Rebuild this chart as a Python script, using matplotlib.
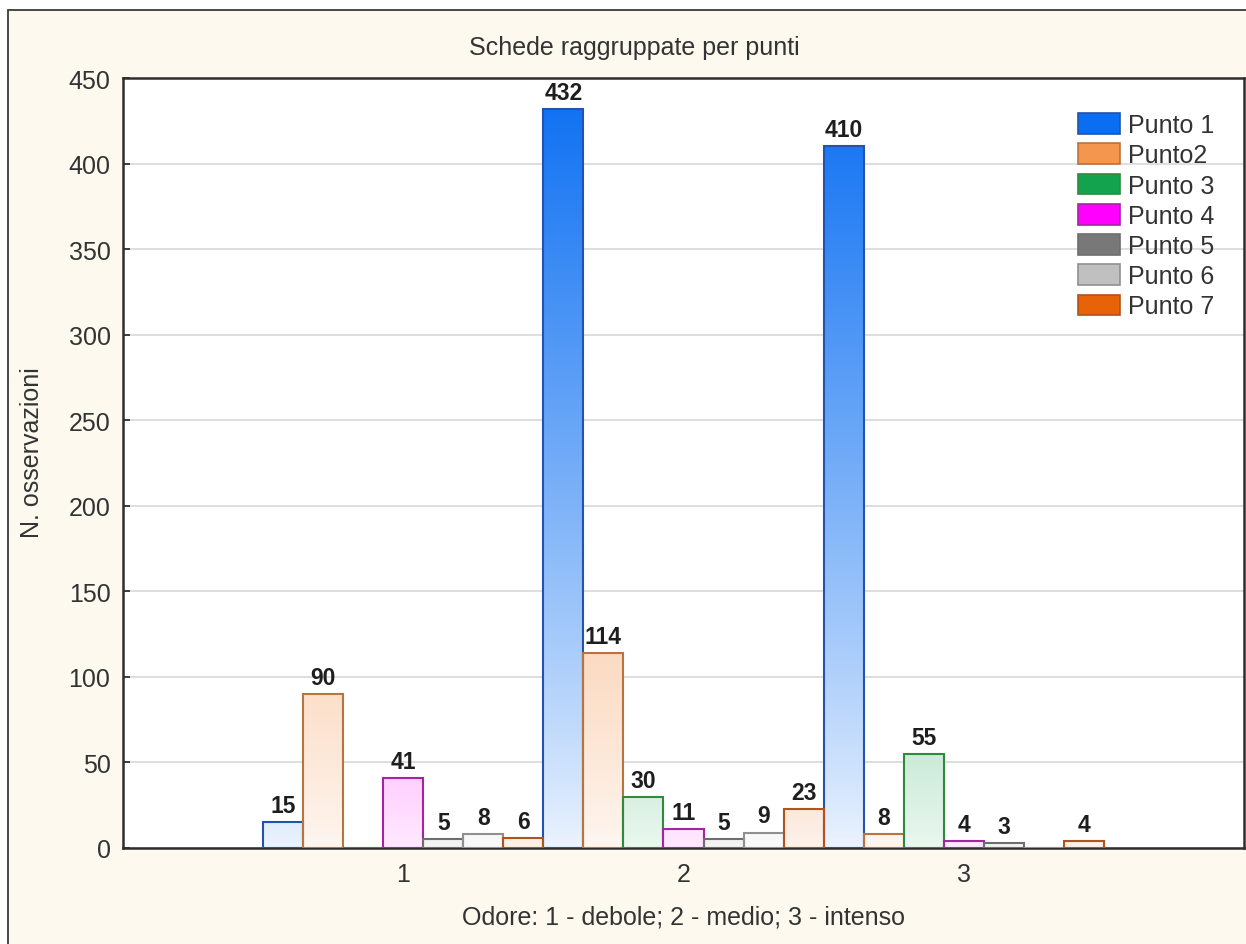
import numpy as np
import matplotlib
matplotlib.use("Agg")
import matplotlib.pyplot as plt
from matplotlib.patches import Rectangle, Patch
from matplotlib.colors import to_rgb

plt.rcParams["font.family"] = ["Liberation Sans", "DejaVu Sans"]

# odour intensity classes on the x axis
groups = [1, 2, 3]
series_names = ["Punto 1", "Punto2", "Punto 3", "Punto 4", "Punto 5", "Punto 6", "Punto 7"]

punto1 = [15, 432, 410]
punto2 = [90, 114, 8]
punto3 = [0, 30, 55]
punto4 = [41, 11, 4]
punto5 = [5, 5, 3]
punto6 = [8, 9, 0]
punto7 = [6, 23, 4]
series_values = [punto1, punto2, punto3, punto4, punto5, punto6, punto7]

face_colors = ["#0a6ef2", "#f5964e", "#13a24e", "#ff00ff", "#787878", "#c0c0c0", "#e8620a"]
edge_colors = ["#2453ad", "#b8743e", "#2e8b3e", "#a424a4", "#6e6e6e", "#909090", "#b4521e"]

y_max = 450
text_col = "#333333"
fs = 18

fig = plt.figure(figsize=(12.46, 9.45), dpi=100)
fig.patch.set_facecolor("white")
# cream panel with a thin dark frame
fig.patches.append(Rectangle((8 / 1246, -0.05), 1.1, 1 - 11 / 945 + 0.05,
                             transform=fig.transFigure, facecolor="#fdf9ef",
                             edgecolor="#3a3a3a", linewidth=1.3, zorder=-10))

ax = fig.add_axes([123 / 1246, 1 - 849 / 945, (1244 - 123) / 1246, (849 - 79) / 945])
ax.set_zorder(1)
ax.set_facecolor("white")


def shade(color, y):
    # white at the baseline, full colour towards the top of the axis
    t = 0.08 + 0.92 * (y / y_max) ** 0.9
    c = np.array(to_rgb(color))
    return (1 - t)[:, None] * np.ones(3) + t[:, None] * c


width = 1 / 7
for i, (vals, fc, ec) in enumerate(zip(series_values, face_colors, edge_colors)):
    xs = np.array(groups) + (i - 3) * width
    for x, v in zip(xs, vals):
        if v <= 0:
            continue
        ys = np.linspace(0, v, 200)
        img = shade(fc, ys)[:, None, :]
        ax.imshow(img, extent=[x - width / 2, x + width / 2, 0, v], origin="lower",
                  aspect="auto", interpolation="bilinear", zorder=2)
        ax.text(x, v + 3, str(v), ha="center", va="bottom", fontsize=16.5,
                fontweight="bold", color="#1e1e1e", zorder=4)
    ax.bar(xs, vals, width=width, facecolor="none", edgecolor=ec, linewidth=1.5, zorder=3)

ax.set_xlim(0, 4)
ax.set_ylim(0, y_max)
ax.set_xticks(groups)
ax.set_yticks(np.arange(0, 451, 50))
ax.tick_params(axis="both", direction="in", length=5, width=1.2, colors="#222222",
               labelcolor=text_col, labelsize=fs)
ax.tick_params(axis="y", pad=9)
ax.tick_params(axis="x", pad=10)
ax.yaxis.grid(True, color="#d8d8d8", linewidth=1.2)
ax.set_axisbelow(True)
for sp in ax.spines.values():
    sp.set_color("#2e2e2e")
    sp.set_linewidth(1.8)

handles = [Patch(facecolor=fc, edgecolor=ec, linewidth=1.2, label=name)
           for name, fc, ec in zip(series_names, face_colors, edge_colors)]
ax.legend(handles=handles, loc="upper left", bbox_to_anchor=(1078 / 1246, 1 - 114 / 945),
          bbox_transform=fig.transFigure, frameon=False, fontsize=fs,
          handlelength=1.67, handleheight=0.9, handletextpad=0.35,
          labelspacing=0.25, borderpad=0, borderaxespad=0, labelcolor=text_col)

fig.text(634 / 1246, 1 - 48 / 945, "Schede raggruppate per punti", ha="center", va="center",
         fontsize=fs, color=text_col)
fig.text(683 / 1246, 1 - 918 / 945, "Odore: 1 - debole; 2 - medio; 3 - intenso",
         ha="center", va="center", fontsize=fs, color=text_col)
fig.text(32 / 1246, 1 - 453 / 945, "N. osservazioni", ha="center", va="center",
         rotation=90, fontsize=fs, color=text_col)

fig.savefig("out.png", dpi=100)
